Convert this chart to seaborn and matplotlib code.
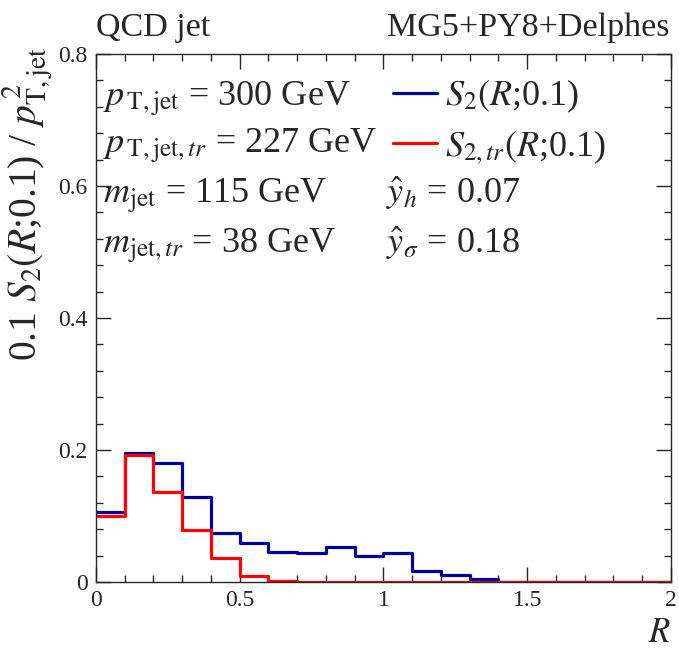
import numpy as np
import pandas as pd
import seaborn as sns
import matplotlib.pyplot as plt
from matplotlib.lines import Line2D
from matplotlib.ticker import MultipleLocator, FormatStrFormatter

# %% data: R bins of width 0.1
bin_edges = [round(0.1 * i, 1) for i in range(21)]
bin_centers = [round(0.1 * i + 0.05, 2) for i in range(20)]
s2 = [0.106, 0.196, 0.181, 0.129, 0.074, 0.059, 0.045, 0.044, 0.053, 0.040,
      0.044, 0.017, 0.010, 0.005, 0.0, 0.0, 0.0, 0.0, 0.0, 0.0]
s2_tr = [0.100, 0.192, 0.136, 0.079, 0.036, 0.009, 0.001, 0.0005, 0.0003, 0.0002,
         0.0, 0.0, 0.0, 0.0, 0.0, 0.0, 0.0, 0.0, 0.0, 0.0]

df = pd.DataFrame({'R': bin_centers, 's2': s2, 's2_tr': s2_tr})

# %% style
sns.set_style('ticks')
plt.rcParams['font.family'] = ['Liberation Serif', 'DejaVu Serif']
plt.rcParams['mathtext.fontset'] = 'stix'

blue = '#000099'
red = '#ff0000'

fig = plt.figure(figsize=(6.79, 6.49), dpi=100)
ax = fig.add_axes([0.1414, 0.1032, 0.8466, 0.8136])

sns.histplot(data=df, x='R', weights='s2', bins=bin_edges, element='step',
             fill=False, color=blue, linewidth=2.3, ax=ax)
sns.histplot(data=df, x='R', weights='s2_tr', bins=bin_edges, element='step',
             fill=False, color=red, linewidth=2.3, ax=ax)

ax.set_xlim(0, 2)
ax.set_ylim(0, 0.8)

# ROOT-like ticks
ax.xaxis.set_major_locator(MultipleLocator(0.5))
ax.xaxis.set_minor_locator(MultipleLocator(0.1))
ax.yaxis.set_major_locator(MultipleLocator(0.2))
ax.yaxis.set_minor_locator(MultipleLocator(0.04))
ax.xaxis.set_major_formatter(FormatStrFormatter('%g'))
ax.yaxis.set_major_formatter(FormatStrFormatter('%g'))
ax.tick_params(which='both', direction='in', top=True, right=True, width=1.0, labelsize=17)
ax.tick_params(which='major', length=10.5, pad=6)
ax.tick_params(which='minor', length=5)
for sp in ax.spines.values():
    sp.set_linewidth(1.0)

ax.set_xlabel(r'$R$', fontsize=25, loc='right')
ax.set_ylabel(r'0.1 $S_2(R$;0.1) / $p^{\,2}_{\rm T,jet}$', fontsize=28.5, loc='top')
ax.yaxis.set_label_coords(-0.072, 1.015)
ax.xaxis.set_label_coords(1.0, -0.066)

# header
fig.text(0.141, 0.945, 'QCD jet', fontsize=24.5, ha='left', va='baseline')
fig.text(0.986, 0.945, 'MG5+PY8+Delphes', fontsize=24.5, ha='right', va='baseline')

# left text column
left_txt = [r'$p_{\,\rm T,jet}$ = 300 GeV',
            r'$p_{\,{\rm T,jet},tr}$ = 227 GeV',
            r'$m_{\rm jet}$ = 115 GeV',
            r'$m_{{\rm jet},tr}$ = 38 GeV']
rows_y = [0.902, 0.812, 0.718, 0.623]
for t, yy in zip(left_txt, rows_y):
    ax.text(0.012, yy, t, transform=ax.transAxes, fontsize=26, va='baseline')

# legend for histograms
handles = [Line2D([], [], color=blue, lw=2.3), Line2D([], [], color=red, lw=2.3)]
labels = [r'$S_2(R$;0.1)', r'$S_{2,tr}(R$;0.1)']
leg = ax.legend(handles, labels, loc='upper left', bbox_to_anchor=(0.516, 0.955),
                frameon=False, fontsize=26, handlelength=1.22, handletextpad=0.22,
                labelspacing=0.37, borderaxespad=0, borderpad=0)

ax.text(0.505, rows_y[2], r'$\hat{y}_h$ = 0.07', transform=ax.transAxes, fontsize=26, va='baseline')
ax.text(0.505, rows_y[3], r'$\hat{y}_\sigma$ = 0.18', transform=ax.transAxes, fontsize=26, va='baseline')

plt.savefig('out.png', dpi=100)
